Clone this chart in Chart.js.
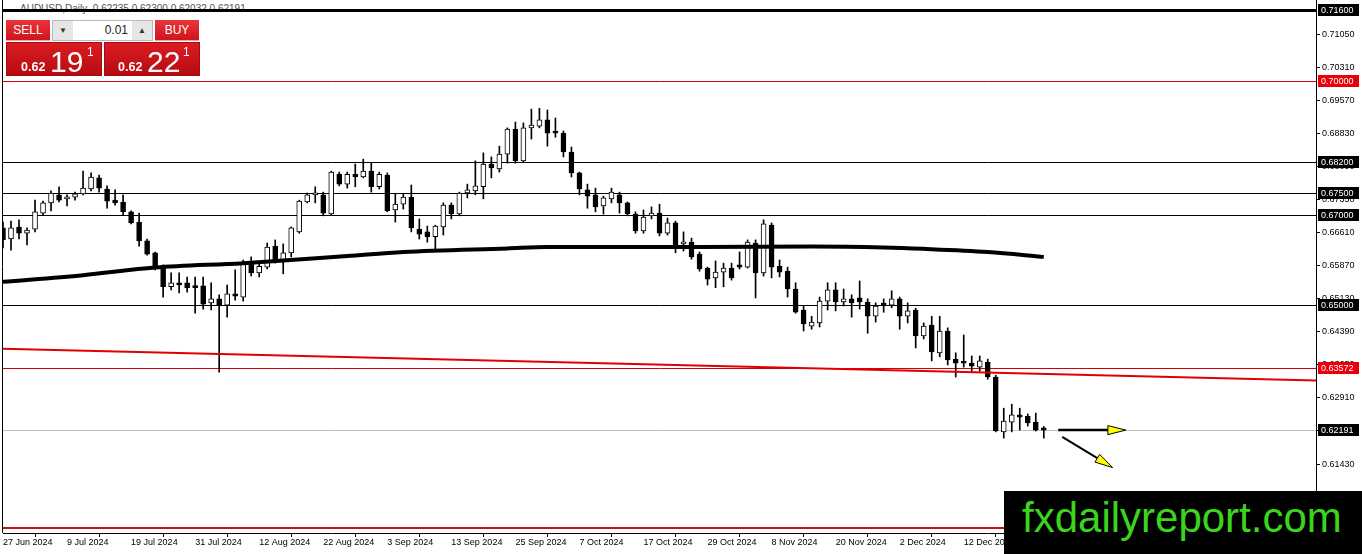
<!DOCTYPE html>
<html>
<head>
<meta charset="utf-8">
<title>AUDUSD Daily</title>
<script src="https://cdn.jsdelivr.net/npm/chart.js@4.4.0/dist/chart.umd.min.js"></script>
<style>
  html, body { margin: 0; padding: 0; background: #fff; }
  #wrap { position: relative; width: 1362px; height: 554px; overflow: hidden; }
  #chartCanvas { position: absolute; left: 0; top: 0; z-index: 1; }
  #header { position: absolute; left: 20px; top: 3px; z-index: 0; font: 10px "Liberation Sans", Arial, sans-serif; color: #555; white-space: pre; }
  .panel { position: absolute; z-index: 2; font-family: "Liberation Sans", Arial, sans-serif; color: #fff; }
  .btn { height: 21px; line-height: 21px; text-align: center; font-size: 12px;
         background: linear-gradient(#e9353a, #cf151c); box-sizing: border-box; border-bottom: 1px solid #f3a0a0; }
  .lot { height: 21px; width: 101px; background: #fff; border: 1px solid #b9b9b9; box-sizing: border-box; color: #222; font-size: 12px; }
  .lot .ar { position: absolute; top: 0; width: 20px; height: 19px; background: #e6e6e6; color: #333; font-size: 8px; line-height: 19px; text-align: center; }
  .lot .val { position: absolute; left: 40px; width: 35px; top: 0; line-height: 19px; text-align: right; }
  .price { width: 96px; height: 34px; background: linear-gradient(#dc1b22, #b70b12); box-sizing: border-box; border: 1px solid #a50a0f; }
  .price span { position: absolute; white-space: nowrap; }
  .small { font-size: 12.5px; font-weight: bold; line-height: 12.5px; }
  .big { font-size: 30px; line-height: 30px; }
  .sup { font-size: 12px; line-height: 12px; }
  #mark { position: absolute; left: 1004px; top: 491px; width: 358px; height: 63px; background: #000; z-index: 3;
          font: 42px "Liberation Sans", Arial, sans-serif; color: #3bd41e; line-height: 42px; box-sizing: border-box; padding: 6px 0 0 18px; }
</style>
</head>
<body>
<div id="wrap">
  <div id="header">AUDUSD,Daily  0.62235 0.62300 0.62032 0.62191</div>
  <canvas id="chartCanvas" width="1362" height="554"></canvas>

  <div class="panel btn" style="left:6px;top:20px;width:44px;">SELL</div>
  <div class="panel lot" style="left:52px;top:20px;">
    <span class="ar" style="left:0;">&#9660;</span>
    <span class="val">0.01</span>
    <span class="ar" style="left:79px;">&#9650;</span>
  </div>
  <div class="panel btn" style="left:155px;top:20px;width:44px;">BUY</div>
  <div class="panel price" style="left:6px;top:42px;">
    <span class="small" style="left:14px;top:18px;">0.62</span>
    <span class="big" style="left:43px;top:4px;">19</span>
    <span class="sup" style="left:80px;top:3px;">1</span>
  </div>
  <div class="panel price" style="left:104px;top:42px;">
    <span class="small" style="left:13px;top:18px;">0.62</span>
    <span class="big" style="left:42px;top:4px;">22</span>
    <span class="sup" style="left:78px;top:3px;">1</span>
  </div>

  <div id="mark">fxdailyreport.com</div>
</div>

<script>
// daily candles, 27 Jun 2024 .. 26 Dec 2024
const open = [
  0.6672, 0.6647, 0.6674, 0.6660, 0.6669, 0.6705, 0.6728, 0.6746, 0.6737, 0.6741,
  0.6748, 0.6759, 0.6784, 0.6759, 0.6734, 0.6730, 0.6708, 0.6685, 0.6643, 0.6616,
  0.6584, 0.6540, 0.6549, 0.6549, 0.6542, 0.6542, 0.6504, 0.6513, 0.6499, 0.6524,
  0.6517, 0.6591, 0.6571, 0.6584, 0.6631, 0.6600, 0.6616, 0.6663, 0.6730, 0.6746,
  0.6746, 0.6703, 0.6792, 0.6770, 0.6792, 0.6786, 0.6799, 0.6764, 0.6790, 0.6712,
  0.6725, 0.6741, 0.6669, 0.6663, 0.6652, 0.6674, 0.6723, 0.6703, 0.6750, 0.6755,
  0.6764, 0.6815, 0.6804, 0.6837, 0.6893, 0.6822, 0.6896, 0.6900, 0.6914, 0.6887,
  0.6884, 0.6842, 0.6795, 0.6757, 0.6746, 0.6721, 0.6737, 0.6746, 0.6728, 0.6703,
  0.6665, 0.6699, 0.6705, 0.6660, 0.6683, 0.6636, 0.6640, 0.6613, 0.6582, 0.6560,
  0.6573, 0.6582, 0.6589, 0.6584, 0.6638, 0.6571, 0.6678, 0.6586, 0.6575, 0.6535,
  0.6488, 0.6452, 0.6459, 0.6508, 0.6533, 0.6506, 0.6513, 0.6515, 0.6506, 0.6474,
  0.6501, 0.6499, 0.6513, 0.6474, 0.6488, 0.6430, 0.6454, 0.6392, 0.6441, 0.6378,
  0.6371, 0.6369, 0.6360, 0.6371, 0.6338, 0.6215, 0.6237, 0.6253, 0.6250, 0.6237,
  0.6224
];
const high = [
  0.6685, 0.6687, 0.6690, 0.6672, 0.6734, 0.6732, 0.6755, 0.6764, 0.6746, 0.6752,
  0.6799, 0.6795, 0.6790, 0.6766, 0.6757, 0.6746, 0.6710, 0.6705, 0.6647, 0.6618,
  0.6589, 0.6571, 0.6571, 0.6562, 0.6562, 0.6562, 0.6549, 0.6522, 0.6544, 0.6578,
  0.6600, 0.6607, 0.6596, 0.6638, 0.6645, 0.6636, 0.6674, 0.6734, 0.6750, 0.6764,
  0.6752, 0.6799, 0.6797, 0.6797, 0.6815, 0.6826, 0.6817, 0.6797, 0.6795, 0.6748,
  0.6748, 0.6768, 0.6692, 0.6676, 0.6678, 0.6728, 0.6728, 0.6752, 0.6770, 0.6822,
  0.6840, 0.6831, 0.6855, 0.6896, 0.6909, 0.6907, 0.6938, 0.6940, 0.6936, 0.6918,
  0.6889, 0.6853, 0.6797, 0.6770, 0.6761, 0.6743, 0.6761, 0.6752, 0.6730, 0.6708,
  0.6712, 0.6719, 0.6725, 0.6694, 0.6687, 0.6663, 0.6649, 0.6618, 0.6584, 0.6598,
  0.6593, 0.6593, 0.6618, 0.6645, 0.6645, 0.6690, 0.6683, 0.6600, 0.6584, 0.6549,
  0.6497, 0.6474, 0.6517, 0.6549, 0.6549, 0.6535, 0.6522, 0.6553, 0.6513, 0.6504,
  0.6513, 0.6531, 0.6517, 0.6504, 0.6492, 0.6459, 0.6474, 0.6474, 0.6448, 0.6392,
  0.6432, 0.6385, 0.6385, 0.6378, 0.6342, 0.6268, 0.6277, 0.6268, 0.6255, 0.6257,
  0.6227
];
const low = [
  0.6627, 0.6622, 0.6647, 0.6634, 0.6663, 0.6701, 0.6710, 0.6730, 0.6721, 0.6734,
  0.6746, 0.6755, 0.6752, 0.6716, 0.6723, 0.6701, 0.6681, 0.6631, 0.6611, 0.6578,
  0.6517, 0.6533, 0.6526, 0.6528, 0.6481, 0.6490, 0.6488, 0.6349, 0.6472, 0.6510,
  0.6508, 0.6564, 0.6562, 0.6580, 0.6593, 0.6569, 0.6607, 0.6660, 0.6728, 0.6728,
  0.6699, 0.6701, 0.6766, 0.6761, 0.6764, 0.6784, 0.6752, 0.6759, 0.6708, 0.6685,
  0.6714, 0.6663, 0.6647, 0.6640, 0.6622, 0.6656, 0.6692, 0.6699, 0.6739, 0.6746,
  0.6737, 0.6784, 0.6797, 0.6817, 0.6817, 0.6819, 0.6871, 0.6896, 0.6855, 0.6875,
  0.6831, 0.6786, 0.6746, 0.6716, 0.6708, 0.6703, 0.6728, 0.6705, 0.6699, 0.6660,
  0.6660, 0.6692, 0.6654, 0.6656, 0.6616, 0.6620, 0.6602, 0.6575, 0.6544, 0.6538,
  0.6540, 0.6555, 0.6580, 0.6582, 0.6515, 0.6564, 0.6560, 0.6562, 0.6517, 0.6481,
  0.6441, 0.6445, 0.6450, 0.6488, 0.6486, 0.6497, 0.6472, 0.6490, 0.6436, 0.6461,
  0.6483, 0.6493, 0.6445, 0.6459, 0.6403, 0.6423, 0.6374, 0.6383, 0.6365, 0.6338,
  0.6360, 0.6351, 0.6351, 0.6333, 0.6215, 0.6201, 0.6215, 0.6219, 0.6228, 0.6217,
  0.6201
];
const close = [
  0.6645, 0.6672, 0.6660, 0.6667, 0.6708, 0.6728, 0.6750, 0.6734, 0.6741, 0.6748,
  0.6761, 0.6786, 0.6761, 0.6732, 0.6728, 0.6708, 0.6683, 0.6643, 0.6613, 0.6582,
  0.6540, 0.6549, 0.6544, 0.6538, 0.6538, 0.6501, 0.6513, 0.6499, 0.6524, 0.6519,
  0.6593, 0.6571, 0.6586, 0.6629, 0.6598, 0.6616, 0.6672, 0.6732, 0.6746, 0.6747,
  0.6705, 0.6797, 0.6770, 0.6792, 0.6786, 0.6799, 0.6764, 0.6792, 0.6710, 0.6725,
  0.6741, 0.6672, 0.6658, 0.6652, 0.6676, 0.6723, 0.6703, 0.6750, 0.6757, 0.6766,
  0.6815, 0.6806, 0.6837, 0.6893, 0.6822, 0.6896, 0.6902, 0.6914, 0.6884, 0.6884,
  0.6842, 0.6795, 0.6759, 0.6743, 0.6719, 0.6739, 0.6752, 0.6728, 0.6703, 0.6665,
  0.6696, 0.6705, 0.6660, 0.6683, 0.6634, 0.6640, 0.6607, 0.6580, 0.6557, 0.6573,
  0.6582, 0.6560, 0.6584, 0.6640, 0.6571, 0.6681, 0.6584, 0.6573, 0.6535, 0.6483,
  0.6457, 0.6461, 0.6508, 0.6533, 0.6506, 0.6513, 0.6504, 0.6506, 0.6474, 0.6497,
  0.6499, 0.6513, 0.6474, 0.6486, 0.6430, 0.6452, 0.6394, 0.6441, 0.6376, 0.6369,
  0.6369, 0.6362, 0.6374, 0.6338, 0.6217, 0.6239, 0.6253, 0.6248, 0.6235, 0.6219,
  0.6219
];

// x-axis date labels, one every 8 bars
const tickDates = ['27 Jun 2024', '9 Jul 2024', '19 Jul 2024', '31 Jul 2024', '12 Aug 2024',
  '22 Aug 2024', '3 Sep 2024', '13 Sep 2024', '25 Sep 2024', '7 Oct 2024', '17 Oct 2024',
  '29 Oct 2024', '8 Nov 2024', '20 Nov 2024', '2 Dec 2024', '12 Dec 2024'];
const barsPerTick = 8;

// price scale labels
const priceTicks = [0.7105, 0.7031, 0.6957, 0.6883, 0.6809, 0.6735, 0.6661, 0.6587,
  0.6513, 0.6439, 0.6365, 0.6291, 0.6217, 0.6143, 0.6069];

// moving average (read at a few bars)
const maBars = [0, 10, 19, 30, 43, 50, 63, 68, 80, 87, 101, 110, 115, 123, 130];
const maValues = [0.6551, 0.6566, 0.6583, 0.6593, 0.6609, 0.6618, 0.6626, 0.6629,
  0.6629, 0.6629, 0.6630, 0.6628, 0.6625, 0.6618, 0.6607];

// red trend line
const trendBars = [0, 164];
const trendValues = [0.6401, 0.6330];

// horizontal levels
const levelPrices = [0.71600, 0.70000, 0.68200, 0.67500, 0.67000, 0.65000, 0.63572, 0.62191, 0.60000];
const levelColors = ['#000', '#e00000', '#000', '#000', '#000', '#000', '#d40000', '#c0c0c0', '#c8101a'];
const levelWidths = [3, 1, 1, 1, 1, 1, 1, 1, 2];
const levelBoxColors = ['#000', '#e8000b', '#000', '#000', '#000', '#000', '#e8000b', '#000', null];

// arrows drawn on the right
const arrowFrom = [[131.8, 0.6219], [132.3, 0.6204]];
const arrowTo = [[140.25, 0.6219], [138.6, 0.6135]];
const arrowWidths = [2.5, 2];

const bodies = open.map((o, i) => ({ x: i, y: [o, close[i]] }));
const wicks = low.map((l, i) => ({ x: i, y: [l, high[i]] }));
const bodyColors = open.map((o, i) => close[i] >= o ? '#fff' : '#000');

const overlay = {
    id: 'overlay',
    beforeDatasetsDraw(chart) {
        const { ctx, chartArea: a, scales: { y } } = chart;
        ctx.save();
        levelPrices.forEach((v, i) => {
            let py = Math.round(y.getPixelForValue(v));
            if (levelWidths[i] % 2) py += 0.5;
            ctx.strokeStyle = levelColors[i];
            ctx.lineWidth = levelWidths[i];
            ctx.beginPath();
            ctx.moveTo(a.left, py);
            ctx.lineTo(a.right, py);
            ctx.stroke();
        });
        ctx.restore();
    },
    afterDraw(chart) {
        const { ctx, chartArea: a, scales: { x, y } } = chart;
        ctx.save();
        // left frame
        ctx.strokeStyle = '#000';
        ctx.lineWidth = 1;
        ctx.beginPath();
        ctx.moveTo(a.left - 0.5, 0);
        ctx.lineTo(a.left - 0.5, a.bottom);
        ctx.stroke();

        // arrows
        arrowFrom.forEach((p, i) => {
            const x0 = x.getPixelForValue(p[0]), y0 = y.getPixelForValue(p[1]);
            const x1 = x.getPixelForValue(arrowTo[i][0]), y1 = y.getPixelForValue(arrowTo[i][1]);
            const ang = Math.atan2(y1 - y0, x1 - x0);
            const len = 18, half = 4.5;
            const bx = x1 - len * Math.cos(ang), by = y1 - len * Math.sin(ang);
            ctx.strokeStyle = '#000';
            ctx.lineWidth = arrowWidths[i];
            ctx.beginPath();
            ctx.moveTo(x0, y0);
            ctx.lineTo(bx, by);
            ctx.stroke();
            ctx.beginPath();
            ctx.moveTo(x1, y1);
            ctx.lineTo(bx - half * Math.sin(ang), by + half * Math.cos(ang));
            ctx.lineTo(bx + half * Math.sin(ang), by - half * Math.cos(ang));
            ctx.closePath();
            ctx.fillStyle = '#ffff00';
            ctx.fill();
            ctx.lineWidth = 1;
            ctx.stroke();
        });

        // price boxes on the axis
        ctx.font = '9px "Liberation Sans", Arial, sans-serif';
        ctx.textBaseline = 'middle';
        ctx.textAlign = 'left';
        levelPrices.forEach((v, i) => {
            if (!levelBoxColors[i]) return;
            const py = Math.round(y.getPixelForValue(v));
            ctx.fillStyle = levelBoxColors[i];
            ctx.fillRect(a.right + 2, py - 6, 41, 12);
            ctx.fillStyle = '#fff';
            ctx.fillText(v.toFixed(5), a.right + 5, py + 0.5);
        });
        ctx.restore();
    }
};

const ctx = document.getElementById('chartCanvas').getContext('2d');
const chart = new Chart(ctx, {
    type: 'bar',
    data: {
        datasets: [{
            label: 'Body',
            data: bodies,
            backgroundColor: bodyColors,
            borderColor: '#000',
            borderWidth: 1,
            borderSkipped: false,
            barThickness: 5,
            maxBarThickness: 5,
            minBarLength: 2,
            grouped: false,
            clip: 0,
            order: 2
        }, {
            label: 'Wick',
            data: wicks,
            backgroundColor: '#000',
            borderWidth: 0,
            barThickness: 1,
            maxBarThickness: 1,
            grouped: false,
            clip: 0,
            order: 3
        }, {
            type: 'line',
            label: 'MA',
            data: maBars.map((b, i) => ({ x: b, y: maValues[i] })),
            borderColor: '#000',
            borderWidth: 4,
            pointRadius: 0,
            cubicInterpolationMode: 'monotone',
            clip: 0,
            order: 1
        }, {
            type: 'line',
            label: 'Trend',
            data: trendBars.map((b, i) => ({ x: b, y: trendValues[i] })),
            borderColor: '#e00000',
            borderWidth: 2,
            pointRadius: 0,
            order: 0
        }]
    },
    options: {
        responsive: false,
        animation: false,
        devicePixelRatio: 1,
        layout: { padding: { left: 3, top: 0, right: 0, bottom: 0 } },
        plugins: {
            legend: { display: false },
            tooltip: { enabled: false }
        },
        scales: {
            x: {
                type: 'linear',
                offset: false,
                min: 0,
                max: 164,
                afterBuildTicks: (scale) => {
                    scale.ticks = tickDates.map((d, i) => ({ value: i * barsPerTick }));
                },
                afterFit: (scale) => {
                    scale.height = 21;
                    scale.paddingLeft = 0;
                    scale.paddingRight = 0;
                },
                ticks: {
                    autoSkip: false,
                    maxRotation: 0,
                    align: 'start',
                    padding: 0,
                    color: '#000',
                    font: { family: 'Liberation Sans', size: 9 },
                    callback: (value) => tickDates[value / barsPerTick] || ''
                },
                grid: { drawOnChartArea: false, tickLength: 4, color: '#000' },
                border: { color: '#000' }
            },
            y: {
                position: 'right',
                min: 0.59885,
                max: 0.71824,
                afterBuildTicks: (scale) => {
                    scale.ticks = priceTicks.map(v => ({ value: v }));
                },
                afterFit: (scale) => {
                    scale.width = 46;
                    scale.paddingTop = 0;
                    scale.paddingBottom = 0;
                },
                ticks: {
                    padding: 2,
                    color: '#000',
                    font: { family: 'Liberation Sans', size: 9 },
                    callback: (value) => value.toFixed(5)
                },
                grid: { drawOnChartArea: false, tickLength: 4, color: '#000' },
                border: { color: '#000' }
            }
        }
    },
    plugins: [overlay]
});
</script>
</body>
</html>
